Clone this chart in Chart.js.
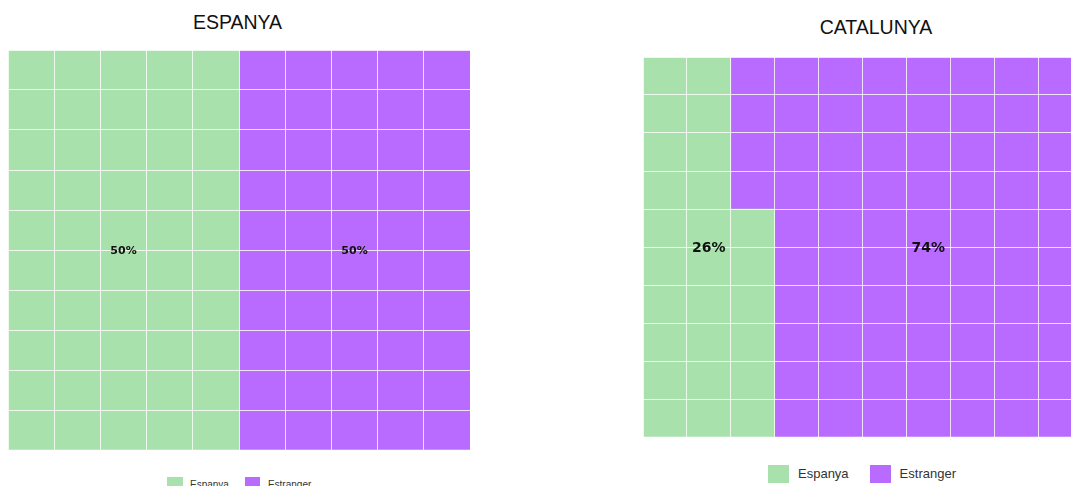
<!DOCTYPE html>
<html>
<head>
<meta charset="utf-8">
<script src="https://cdn.jsdelivr.net/npm/chart.js@4/dist/chart.umd.min.js"></script>
<style>
  body { margin: 0; width: 1071px; height: 486px; overflow: hidden; background: #fff; position: relative;
         font-family: "Liberation Sans", Arial, sans-serif; }
  .title { position: absolute; font-size: 19.5px; line-height: 19.5px; color: #111; white-space: nowrap; transform: translateX(-50%); }
  canvas { position: absolute; }
  .legend { position: absolute; display: flex; align-items: center; color: #333; white-space: nowrap; }
  .key { display: inline-block; box-sizing: border-box; }
</style>
</head>
<body>
<div class="title" id="titleEsp" style="left:237.5px; top:13px;"></div>
<div class="title" id="titleCat" style="left:876px; top:18px;"></div>
<canvas id="chartEsp" width="462" height="400" style="left:8px; top:50px;"></canvas>
<canvas id="chartCat" width="439" height="380" style="left:643px; top:57px;"></canvas>
<div class="legend" id="legendEsp" style="left:167px; top:477px; height:14px; font-size:10px;"></div>
<div class="legend" id="legendCat" style="left:768px; top:464.5px; height:18px; font-size:13px;"></div>

<script>
// Dades
const categories = ['Espanya', 'Estranger'];
const espanyaValues = [50, 50];
const catalunyaValues = [26, 74];
const titles = ['ESPANYA', 'CATALUNYA'];

const colors = ['#A8E1AC', '#B86BFE'];
const nRows = 10;
const colLabels = ['1', '2', '3', '4', '5', '6', '7', '8', '9', '10'];

// Omple les cel·les columna per columna, de baix a dalt
function buildCells(values) {
    const out = values.map(() => []);
    let k = 0;
    values.forEach((v, ci) => {
        for (let i = 0; i < v; i++, k++) {
            const col = Math.floor(k / nRows);
            const row = k % nRows;
            out[ci].push({ x: colLabels[col], y: [row, row + 1] });
        }
    });
    return out;
}

// Etiquetes de percentatge
const pctLabels = {
    id: 'pctLabels',
    afterDraw(chart, args, opts) {
        const { ctx, scales: { x, y } } = chart;
        const labels = x.getLabels();
        ctx.save();
        ctx.font = opts.font;
        ctx.fillStyle = '#111';
        ctx.textAlign = 'center';
        ctx.textBaseline = 'alphabetic';
        chart.data.datasets.forEach(ds => {
            const cols = ds.data.map(d => x.getPixelForValue(labels.indexOf(d.x))).sort((a, b) => a - b);
            const n = cols.length;
            const px = (cols[Math.floor((n - 1) / 2)] + cols[Math.floor(n / 2)]) / 2;
            const py = y.getPixelForValue((y.min + y.max) / 2);
            ctx.fillText(ds.pct + '%', px, py + opts.size * 0.365);
        });
        ctx.restore();
    }
};

function makeWaffle(id, values, labelSize) {
    const cells = buildCells(values);
    const axisGrid = {
        z: 1,
        offset: true,
        color: 'rgba(255,255,255,0.8)',
        lineWidth: 1,
        drawTicks: false
    };
    new Chart(document.getElementById(id), {
        type: 'bar',
        data: {
            labels: colLabels,
            datasets: categories.map((c, i) => ({
                label: c,
                pct: values[i],
                data: cells[i],
                backgroundColor: colors[i],
                borderWidth: 0,
                grouped: false,
                barPercentage: 1,
                categoryPercentage: 1
            }))
        },
        options: {
            responsive: false,
            animation: false,
            events: [],
            layout: { padding: 0 },
            plugins: {
                legend: { display: false },
                tooltip: { enabled: false },
                pctLabels: { font: 'bold ' + labelSize + 'px "DejaVu Sans"', size: labelSize }
            },
            scales: {
                x: {
                    type: 'category',
                    offset: true,
                    grid: axisGrid,
                    border: { display: false },
                    ticks: { display: false }
                },
                y: {
                    min: 0,
                    max: nRows,
                    grid: { ...axisGrid, offset: false },
                    border: { display: false },
                    ticks: { display: false, stepSize: 1 }
                }
            }
        },
        plugins: [pctLabels]
    });
}

function makeLegend(id, box, gap, sep) {
    const el = document.getElementById(id);
    categories.forEach((c, i) => {
        const key = document.createElement('span');
        key.className = 'key';
        key.style.width = box[0] + 'px';
        key.style.height = box[1] + 'px';
        key.style.background = colors[i];
        key.style.marginRight = gap + 'px';
        const txt = document.createElement('span');
        txt.textContent = c;
        if (i < categories.length - 1) txt.style.marginRight = sep + 'px';
        el.appendChild(key);
        el.appendChild(txt);
    });
}

document.getElementById('titleEsp').textContent = titles[0];
document.getElementById('titleCat').textContent = titles[1];

makeWaffle('chartEsp', espanyaValues, 11);
makeWaffle('chartCat', catalunyaValues, 14);

makeLegend('legendEsp', [15.5, 14], 7.5, 16);
makeLegend('legendCat', [21, 18], 9, 21);
</script>
</body>
</html>
